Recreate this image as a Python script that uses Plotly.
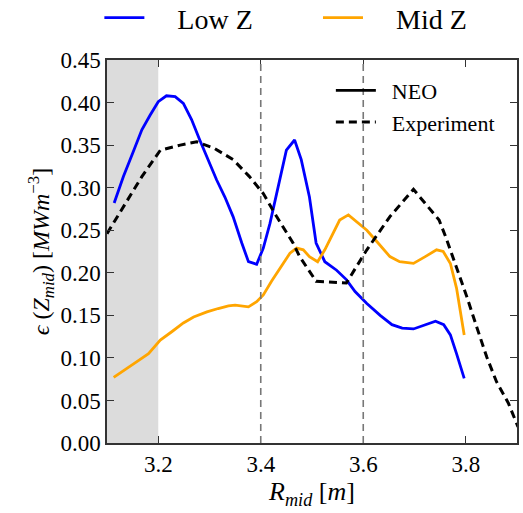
import plotly.graph_objects as go

# Low Z (NEO)
low_x = [3.114, 3.132, 3.151, 3.168, 3.184, 3.200, 3.216, 3.233, 3.249, 3.265, 3.281, 3.298,
         3.314, 3.330, 3.346, 3.363, 3.376, 3.392, 3.405, 3.418, 3.434, 3.450, 3.466, 3.479,
         3.495, 3.508, 3.525, 3.548, 3.567, 3.584, 3.607, 3.633, 3.656, 3.676, 3.698, 3.721,
         3.741, 3.757, 3.770, 3.782, 3.797]
low_y = [0.282, 0.313, 0.342, 0.368, 0.385, 0.401, 0.408, 0.407, 0.399, 0.380, 0.356, 0.331,
         0.309, 0.289, 0.266, 0.235, 0.213, 0.210, 0.229, 0.258, 0.301, 0.344, 0.356, 0.333,
         0.289, 0.235, 0.213, 0.203, 0.192, 0.178, 0.164, 0.150, 0.139, 0.135, 0.134, 0.139,
         0.143, 0.139, 0.127, 0.105, 0.076]

# Mid Z (NEO)
mid_x = [3.113, 3.136, 3.159, 3.181, 3.204, 3.227, 3.249, 3.269, 3.295, 3.317, 3.337, 3.350,
         3.376, 3.392, 3.405, 3.421, 3.441, 3.457, 3.470, 3.483, 3.495, 3.511, 3.525, 3.541,
         3.554, 3.571, 3.587, 3.607, 3.626, 3.652, 3.671, 3.698, 3.721, 3.743, 3.756, 3.770,
         3.782, 3.797]
mid_y = [0.077, 0.086, 0.096, 0.105, 0.121, 0.131, 0.141, 0.148, 0.154, 0.158, 0.161, 0.162,
         0.160, 0.166, 0.174, 0.190, 0.209, 0.223, 0.229, 0.227, 0.219, 0.213, 0.227, 0.246,
         0.262, 0.268, 0.260, 0.250, 0.237, 0.219, 0.213, 0.211, 0.219, 0.227, 0.225, 0.211,
         0.182, 0.127]

# Experiment
exp_x = [3.100, 3.136, 3.168, 3.204, 3.243, 3.275, 3.310, 3.346, 3.378, 3.405, 3.431, 3.463,
         3.476, 3.508, 3.567, 3.607, 3.652, 3.698, 3.748, 3.761, 3.782, 3.802, 3.821, 3.841,
         3.860, 3.883, 3.902]
exp_y = [0.246, 0.282, 0.313, 0.344, 0.350, 0.354, 0.346, 0.333, 0.313, 0.293, 0.266, 0.235,
         0.219, 0.190, 0.188, 0.227, 0.266, 0.298, 0.262, 0.242, 0.207, 0.172, 0.137, 0.101,
         0.072, 0.047, 0.019]

x_ticks = [3.2, 3.4, 3.6, 3.8]
y_ticks = [0.00, 0.05, 0.10, 0.15, 0.20, 0.25, 0.30, 0.35, 0.40, 0.45]
shade_range = [3.1, 3.2]
vlines = [3.4, 3.6]

FONT = "Liberation Serif"
SP = "\u2002\u2002"

fig = go.Figure()
fig.add_trace(go.Scatter(x=low_x, y=low_y, mode="lines", name=SP + "Low Z",
                         line=dict(color="#0000ff", width=2.8), legend="legend2"))
fig.add_trace(go.Scatter(x=mid_x, y=mid_y, mode="lines", name=SP + "Mid Z",
                         line=dict(color="#ffa500", width=2.8), legend="legend3"))
fig.add_trace(go.Scatter(x=[None], y=[None], mode="lines", name="\u2002NEO",
                         line=dict(color="black", width=2.8), legend="legend"))
fig.add_trace(go.Scatter(x=exp_x, y=exp_y, mode="lines", name="\u2002Experiment",
                         line=dict(color="black", width=3, dash="8px,5px"), legend="legend"))

fig.add_vrect(x0=shade_range[0], x1=shade_range[1], fillcolor="#dcdcdc", line_width=0,
              layer="below")
for v in vlines:
    fig.add_vline(x=v, line=dict(color="#777777", width=1.6, dash="7px,5px"))

axis_common = dict(showgrid=False, zeroline=False, ticks="inside", ticklen=7, tickwidth=1,
                   tickcolor="#333333", showline=True, linecolor="#333333", linewidth=1.5,
                   mirror="ticks", tickfont=dict(family=FONT, size=23, color="black"))

top_legend = dict(orientation="h", xanchor="left", xref="container", yref="container",
                  y=0.965, yanchor="middle", font=dict(family=FONT, size=28),
                  bgcolor="rgba(0,0,0,0)", itemwidth=40)

fig.update_layout(
    width=523, height=513,
    margin=dict(l=107, r=4, t=60, b=70),
    paper_bgcolor="white", plot_bgcolor="white",
    font=dict(family=FONT, color="black"),
    xaxis=dict(range=[3.1, 3.9], tickvals=x_ticks, ticktext=[f"{v:.1f}" for v in x_ticks],
               title=dict(text="<i>R</i><sub><i>mid</i></sub> [<i>m</i>]",
                          font=dict(family=FONT, size=26), standoff=0),
               **axis_common),
    yaxis=dict(range=[0, 0.45], tickvals=y_ticks, ticktext=[f"{v:.2f}" for v in y_ticks],
               title=dict(text="<i>ϵ</i> (<i>Z</i><sub><i>mid</i></sub>) [<i>MWm</i><sup>−3</sup>]",
                          font=dict(family=FONT, size=24), standoff=4),
               **axis_common),
    legend2=dict(top_legend, x=0.19),
    legend3=dict(top_legend, x=0.608),
    legend=dict(x=0.546, xanchor="left", y=0.975, yanchor="top",
                font=dict(family=FONT, size=22), bgcolor="rgba(0,0,0,0)",
                tracegroupgap=0, itemwidth=40),
)

fig.write_html("out.html")
